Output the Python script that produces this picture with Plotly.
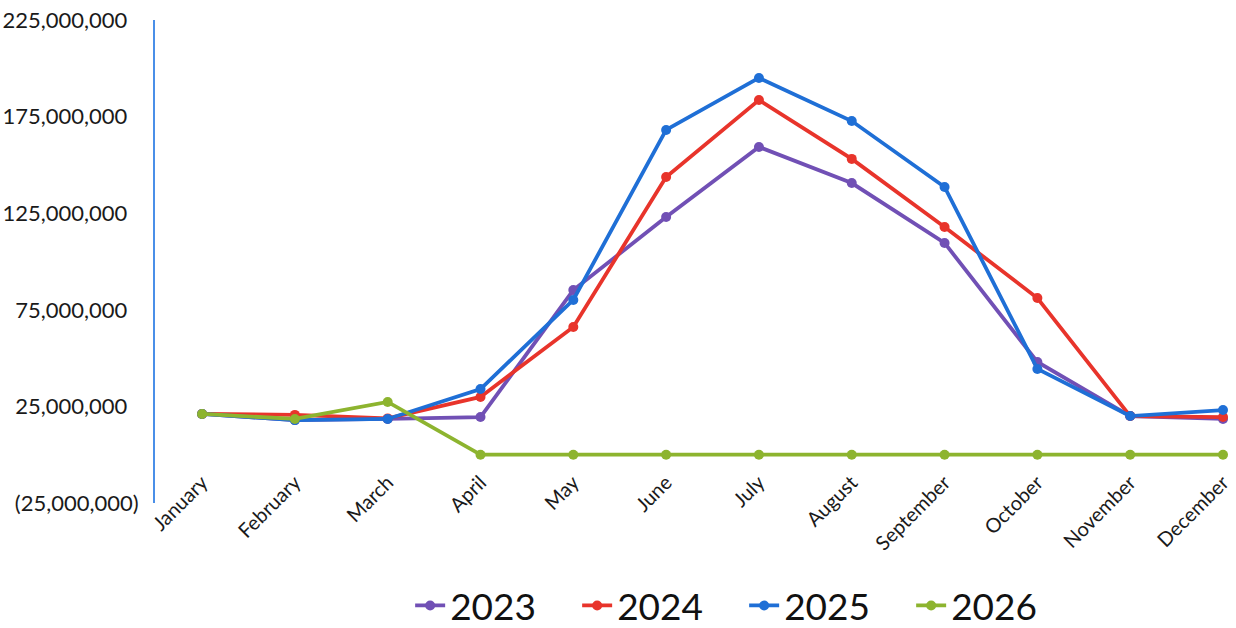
import plotly.graph_objects as go

months = ["January", "February", "March", "April", "May", "June", "July",
          "August", "September", "October", "November", "December"]

v2023 = [21.1e6, 17.9e6, 18.5e6, 19.5e6, 85.2e6, 123.0e6, 159.3e6, 140.6e6, 109.6e6, 48.0e6, 20.0e6, 18.5e6]
v2024 = [21.1e6, 20.6e6, 18.8e6, 29.9e6, 66.1e6, 143.7e6, 183.6e6, 153.1e6, 117.9e6, 81.1e6, 20.0e6, 19.5e6]
v2025 = [21.1e6, 17.9e6, 18.5e6, 34.0e6, 80.1e6, 168.1e6, 195.0e6, 172.7e6, 138.6e6, 44.4e6, 20.0e6, 23.1e6]
v2026 = [21.1e6, 18.5e6, 27.3e6, 0, 0, 0, 0, 0, 0, 0, 0, 0]

series_names = ["2023", "2024", "2025", "2026"]
series_values = [v2023, v2024, v2025, v2026]
series_colors = ["#7150B5", "#E8342B", "#1F6FD6", "#8DB42F"]

y_tickvals = [-25e6, 25e6, 75e6, 125e6, 175e6, 225e6]
y_ticktext = ["(25,000,000)", "25,000,000\u00a0\u00a0", "75,000,000\u00a0\u00a0",
              "125,000,000\u00a0\u00a0", "175,000,000\u00a0\u00a0", "225,000,000\u00a0\u00a0"]

FONT = "Lato"

fig = go.Figure()
for name, vals, col in zip(series_names, series_values, series_colors):
    fig.add_trace(go.Scatter(
        x=list(range(len(months))), y=vals, name=name, mode="lines+markers",
        line=dict(color=col, width=3.8),
        marker=dict(color=col, size=10, symbol="circle"),
        cliponaxis=False,
    ))

fig.update_layout(
    width=1236, height=628,
    margin=dict(l=155, r=0, t=20, b=125, autoexpand=False),
    paper_bgcolor="white", plot_bgcolor="white",
    font=dict(family=FONT, color="#1a1a1a"),
    showlegend=True,
    legend=dict(orientation="h", x=0.545, xanchor="center", y=-0.213, yanchor="middle",
                font=dict(size=37, family=FONT, color="#111111"),
                entrywidth=122, entrywidthmode="pixels",
                bgcolor="rgba(0,0,0,0)"),
)

fig.update_xaxes(
    range=[-0.507, 11.14], automargin=False,
    tickmode="array", tickvals=list(range(len(months))), ticktext=months,
    tickangle=-45, tickfont=dict(size=20, family=FONT, color="#1a1a1a"),
    showgrid=False, zeroline=False, showline=False, ticks="",
    ticklabelstandoff=-37, ticklabeloverflow="allow",
)

fig.update_yaxes(
    range=[-25e6, 225e6], automargin=False,
    tickmode="array", tickvals=y_tickvals, ticktext=y_ticktext,
    tickfont=dict(size=22, family=FONT, color="#1a1a1a"),
    showgrid=False, zeroline=False,
    showline=True, linecolor="#4A8FE8", linewidth=2, ticks="",
    ticklabelstandoff=10, ticklabeloverflow="allow",
)

fig.write_html("out.html", config={"displayModeBar": False},
               post_script="document.body.style.margin='0';document.body.style.overflow='hidden';")
